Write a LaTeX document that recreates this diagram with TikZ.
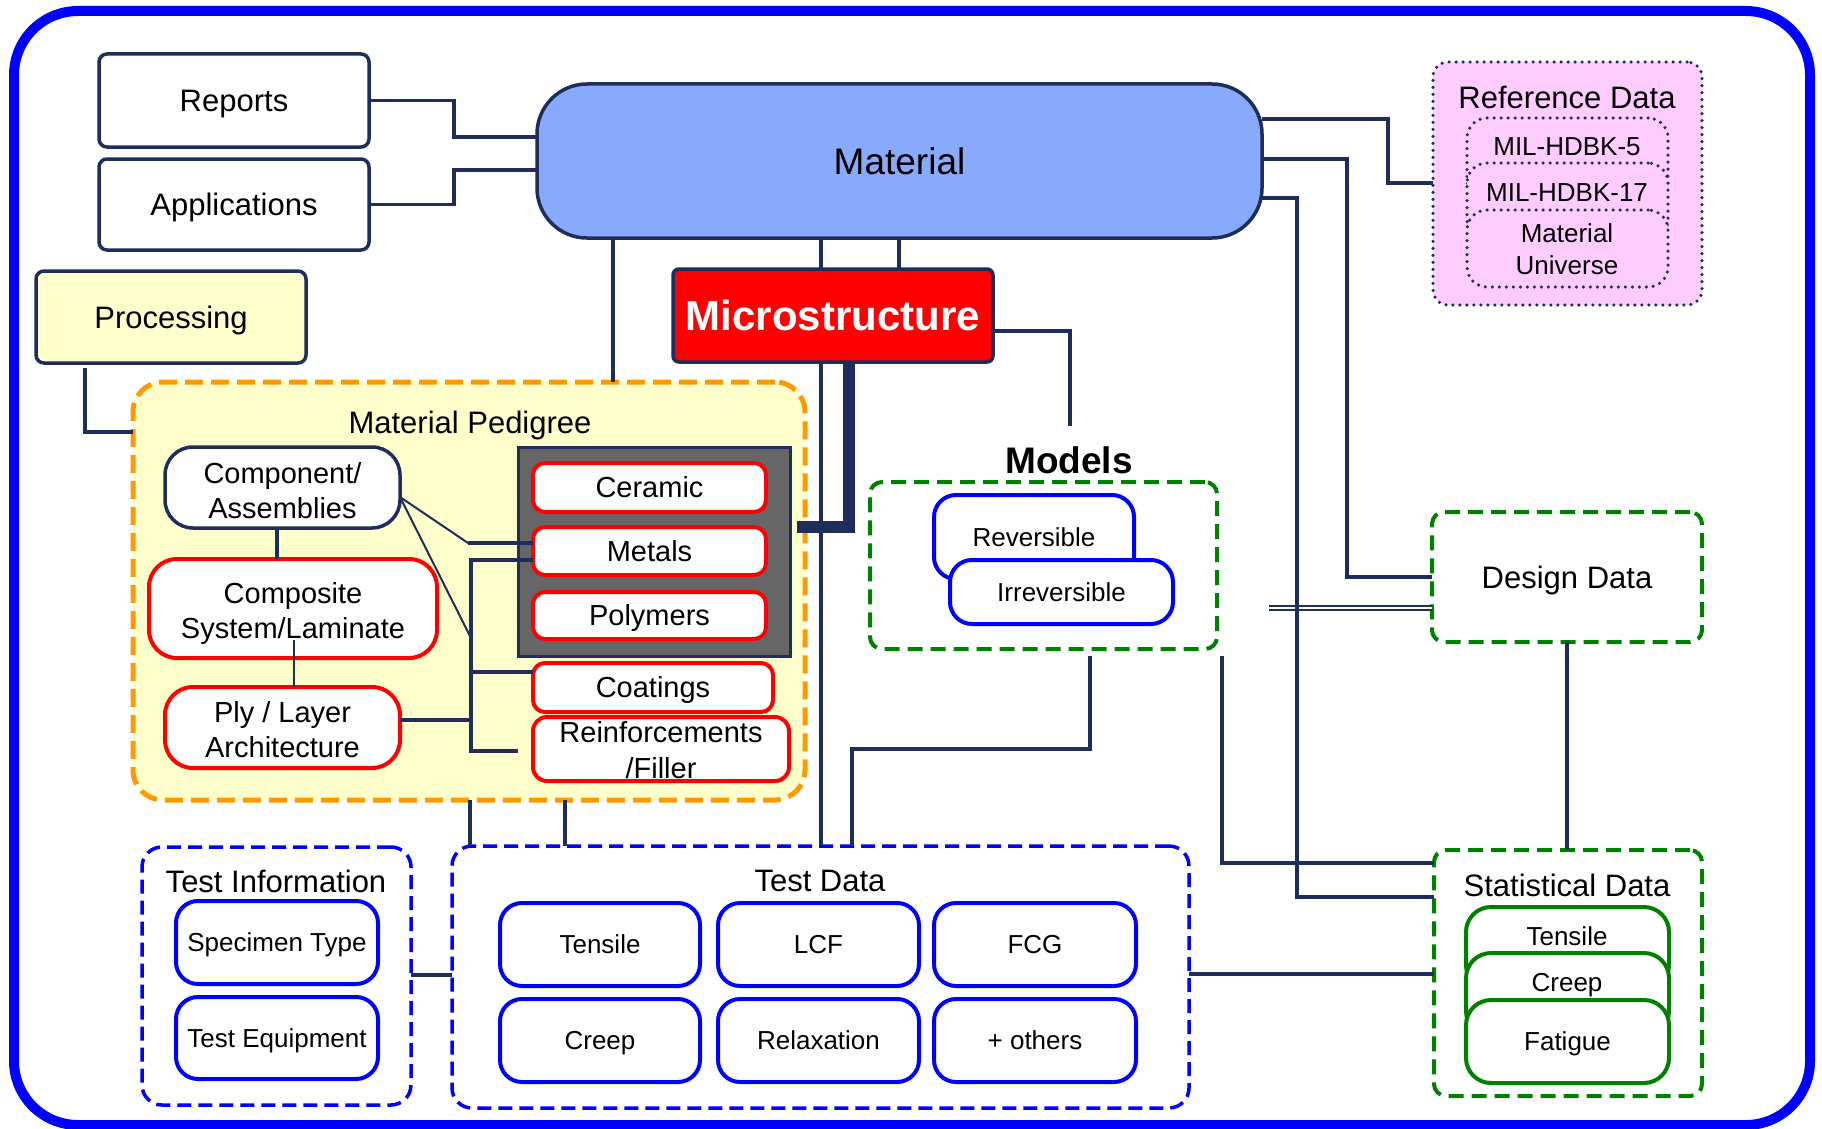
\documentclass[tikz,border=0pt]{standalone}
\usepackage{fontspec}
\setmainfont{Liberation Sans}
\definecolor{dnavy}{RGB}{30,45,90}
\definecolor{matblue}{RGB}{137,170,251}
\definecolor{lyellow}{RGB}{255,255,204}
\definecolor{lpink}{RGB}{255,204,255}
\definecolor{dgray}{RGB}{102,102,102}
\definecolor{ored}{RGB}{255,0,0}
\definecolor{oblue}{RGB}{0,0,255}
\definecolor{ogreen}{RGB}{0,128,0}
\definecolor{oorange}{RGB}{255,153,0}
\newcommand\szL{\fontsize{31}{36}\selectfont}
\newcommand\szM{\fontsize{29}{35}\selectfont}
\newcommand\szS{\fontsize{26}{32}\selectfont}
\newcommand\szXL{\fontsize{37}{42}\selectfont}
\newcommand\szXXL{\fontsize{42}{48}\selectfont}
\tikzset{
  bx/.style={inner sep=0pt, outer sep=0pt, align=center},
  tL/.style={font=\szL, text height=22.2pt, text depth=0pt},
  tM/.style={font=\szM, text height=20.8pt, text depth=0pt},
  tS/.style={font=\szS, text height=18.6pt, text depth=0pt},
  tXL/.style={font=\szXL, text height=26.5pt, text depth=0pt},
  navybox/.style={bx, draw=dnavy, line width=3.5pt, fill=white, rounded corners=8pt},
  redbox/.style={bx, draw=ored, line width=4pt, fill=white},
  bluebox/.style={bx, draw=oblue, line width=4pt, fill=white, rounded corners=22pt},
  greenbox/.style={bx, draw=ogreen, line width=4pt, fill=white, rounded corners=25pt},
  greendash/.style={bx, draw=ogreen, line width=4pt, dash pattern=on 15pt off 8pt, rounded corners=12pt},
  bluedash/.style={bx, draw=oblue, line width=3.5pt, dash pattern=on 14pt off 7pt, rounded corners=20pt},
  dotbox/.style={bx, draw=dnavy, fill=lpink, line width=3.5pt, dash pattern=on 0pt off 7pt, line cap=round},
  conn/.style={draw=dnavy, line width=3.5pt},
  thinconn/.style={draw=dnavy, line width=2pt},
}
\begin{document}
\begin{tikzpicture}[x=1pt,y=-1pt]
\useasboundingbox (0,0) rectangle (1822,1129);
\fill[white] (0,0) rectangle (1822,1129);
% outer frame
\draw[oblue, line width=10pt, rounded corners=64pt] (14,11) rectangle (1810,1125);

% containers
\node[bx, draw=oorange, fill=lyellow, line width=5pt, dash pattern=on 18pt off 8pt, rounded corners=30pt,
      minimum width=672pt, minimum height=418pt] (pedigree) at (469,591) {};
\node[tL] (pedtitle) at (470,422) {Material Pedigree};
\node[bx, draw=dnavy, fill=dgray, line width=3pt, minimum width=272pt, minimum height=209pt] (graybox) at (654,551.5) {};

\node[bluedash, minimum width=269pt, minimum height=258pt] (testinfo) at (276.5,976) {};
\node[tL] (testinfotitle) at (276,881) {Test Information};
\node[bluedash, minimum width=737pt, minimum height=262pt] (testdata) at (820.5,977) {};
\node[tL] (testdatatitle) at (820,880) {Test Data};

\node[greendash, minimum width=347pt, minimum height=167pt] (models) at (1043.5,565.5) {};
\node[tXL, font=\szXL\bfseries] (modelslbl) at (1069,460) {Models};
\node[greendash, tL, minimum width=270pt, minimum height=130pt] (design) at (1567,577) {Design Data};
\node[greendash, minimum width=268pt, minimum height=246pt] (stat) at (1568,973) {};
\node[tL] (stattitle) at (1567,885) {Statistical Data};

% reference data
\node[dotbox, rounded corners=15pt, minimum width=269pt, minimum height=243pt] (refdata) at (1567.5,183.5) {};
\node[tL] (reftitle) at (1567,97) {Reference Data};
\node[dotbox, rounded corners=20pt, minimum width=201pt, minimum height=82pt] (mil5) at (1567.5,159) {};
\node[dotbox, rounded corners=20pt, minimum width=201pt, minimum height=77pt] (mil17) at (1567.5,201.5) {};
\node[dotbox, rounded corners=20pt, minimum width=201pt, minimum height=77pt] (matuniv) at (1567.5,248.5) {};
\node[tS] (mil5t) at (1567,146) {MIL-HDBK-5};
\node[tS] (mil17t) at (1567,192) {MIL-HDBK-17};
\node[font=\szS, align=center] (matunivt) at (1567,249) {Material\\Universe};

% top boxes
\node[navybox, tL, minimum width=270pt, minimum height=93pt] (reports) at (234,100.5) {Reports};
\node[navybox, tL, minimum width=270pt, minimum height=91pt] (applications) at (234,204.5) {Applications};
\node[navybox, tL, fill=lyellow, minimum width=270pt, minimum height=92pt] (processing) at (171,317) {Processing};
\node[bx, tXL, draw=dnavy, fill=matblue, line width=3.5pt, rounded corners=50pt,
      minimum width=725pt, minimum height=154pt] (material) at (899.5,161) {Material};
\node[bx, draw=dnavy, fill=ored, line width=3.5pt, rounded corners=6pt, font=\szXXL\bfseries, text=white,
      text height=30pt, text depth=0pt, minimum width=320pt, minimum height=93pt] (micro) at (833,315.5) {Microstructure};

% pedigree inner
\node[navybox, rounded corners=28pt, minimum width=235pt, minimum height=81pt] (component) at (282.5,487.5) {};
\node[font=\szM, align=center] (componentt) at (282.5,490.5) {Component/\\Assemblies};
\node[redbox, rounded corners=28pt, minimum width=288pt, minimum height=99pt] (composite) at (293,608.5) {};
\node[font=\szM, align=center] (compositet) at (293,613) {Composite\\System/Laminate};
\node[redbox, rounded corners=28pt, minimum width=235pt, minimum height=81pt] (ply) at (282.5,727.5) {};
\node[font=\szM, align=center] (plyt) at (282.5,730) {Ply / Layer\\Architecture};
\node[redbox, tM, rounded corners=12pt, minimum width=233pt, minimum height=49pt] (ceramic) at (649.5,487.5) {Ceramic};
\node[redbox, tM, rounded corners=12pt, minimum width=233pt, minimum height=48pt] (metals) at (649.5,551) {Metals};
\node[redbox, tM, rounded corners=12pt, minimum width=233pt, minimum height=47pt] (polymers) at (649.5,615.5) {Polymers};
\node[redbox, tM, rounded corners=12pt, minimum width=240pt, minimum height=49pt] (coatings) at (653,687.5) {Coatings};
\node[redbox, rounded corners=14pt, minimum width=256pt, minimum height=64pt] (reinf) at (661,749) {};
\node[align=center, font=\fontsize{29}{36}\selectfont] (reinft) at (661,750.5) {Reinforcements\\/Filler};

% models inner
\node[bluebox, tS, minimum width=200pt, minimum height=84pt] (reversible) at (1034,537) {Reversible};
\node[bluebox, tS, minimum width=223pt, minimum height=64pt] (irreversible) at (1061.5,592) {Irreversible};

% test info inner
\node[bluebox, tS, minimum width=202pt, minimum height=83pt] (specimen) at (277,942.5) {Specimen Type};
\node[bluebox, tS, minimum width=202pt, minimum height=82pt] (equipment) at (277,1038) {Test Equipment};

% test data inner
\node[bluebox, tS, minimum width=200pt, minimum height=83pt] (tdtensile) at (600,944.5) {Tensile};
\node[bluebox, tS, minimum width=201pt, minimum height=83pt] (tdlcf) at (818.5,944.5) {LCF};
\node[bluebox, tS, minimum width=202pt, minimum height=83pt] (tdfcg) at (1035,944.5) {FCG};
\node[bluebox, tS, minimum width=200pt, minimum height=83pt] (tdcreep) at (600,1040.5) {Creep};
\node[bluebox, tS, minimum width=201pt, minimum height=83pt] (tdrelax) at (818.5,1040.5) {Relaxation};
\node[bluebox, tS, minimum width=202pt, minimum height=83pt] (tdothers) at (1035,1040.5) {+ others};

% statistical inner
\node[greenbox, minimum width=203pt, minimum height=83pt] (sttensile) at (1567.5,948.5) {};
\node[greenbox, minimum width=203pt, minimum height=83pt] (stcreep) at (1567.5,994.5) {};
\node[greenbox, tS, minimum width=203pt, minimum height=83pt] (stfatigue) at (1567.5,1041.5) {Fatigue};
\node[tS] (sttensilet) at (1567,936) {Tensile};
\node[tS] (stcreept) at (1567,982) {Creep};

% free coordinates
\coordinate (modtop) at (1070,426);
\coordinate (modbot1) at (1090,656);
\coordinate (modbot2) at (1222,656);
\coordinate (dblstart) at (1269,608);
\coordinate (thickend) at (797,527);

% connectors
\draw[conn] (reports.east) -| (454,137) -- (material.west |- 0,137);
\draw[conn] (applications.east) -| (454,170) -- (material.west |- 0,170);
\draw[conn] (material.south -| 613,0) -- (pedigree.north -| 613,0);
\draw[conn] ([yshift=-5pt]processing.south -| 85,0) -- (85,432) -- (pedigree.west |- 0,432);
\draw[conn] (material.south -| 821,0) -- (micro.north -| 821,0);
\draw[conn] (material.south -| 899,0) -- (micro.north -| 899,0);
\draw[conn] (micro.east |- 0,331) -| (modtop);
\draw[conn] (material.east |- 0,119) -- (1388,119) -- (1388,183) -- (refdata.west |- 0,183);
\draw[dnavy, line width=1.8pt, double=white, double distance=2.4pt] (dblstart) -- (design.west |- 0,608);
\draw[conn] (material.east |- 0,159) -- (1347,159) -- (1347,577) -- (design.west);
\draw[conn] (material.east |- 0,198) -- (1297,198) -- (1297,897) -- (stat.west |- 0,897);
\draw[line width=12pt, dnavy] (micro.south -| 849,0) -- (849,527) -- (thickend);
\draw[conn] (micro.south -| 821,0) -- (testdata.north -| 821,0);
\draw[conn] (modbot1) -- (1090,749) -- (852,749) -- (testdata.north -| 852,0);
\draw[conn] (modbot2) -- (1222,863) -- (stat.west |- 0,863);
\draw[conn] (design.south -| 1567,0) -- (stat.north -| 1567,0);
\draw[conn] (testdata.east |- 0,974) -- (stat.west |- 0,974);
\draw[conn] (testinfo.east |- 0,975) -- (testdata.west |- 0,975);
\draw[conn] (pedigree.south -| 470,0) -- (testdata.north -| 470,0);
\draw[conn] (pedigree.south -| 565,0) -- (testdata.north -| 565,0);
% pedigree inner connectors
\draw[conn] (component.south -| 277,0) -- (composite.north -| 277,0);
\draw[thinconn, line width=2.5pt] ([yshift=18pt]composite.south -| 294,0) -- (ply.north -| 294,0);
\draw[thinconn] (component.east |- 0,497) -- (468,543);
\draw[conn] (468,543) -- (metals.west |- 0,543);
\draw[thinconn] (component.east |- 0,497) -- (471,638);
\draw[conn] (metals.west |- 0,560) -- (471,560) -- (471,751) -- (518,751);
\draw[conn] (471,672) -- (coatings.west |- 0,672);
\draw[conn] (ply.east |- 0,720) -- (471,720);
\end{tikzpicture}
\end{document}
